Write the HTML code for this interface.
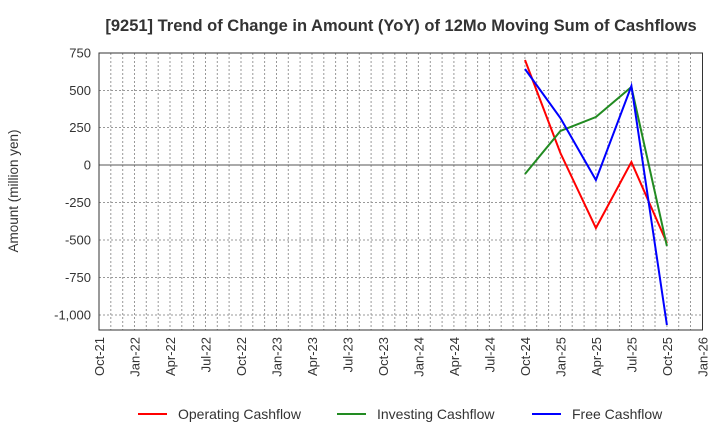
<!DOCTYPE html>
<html><head><meta charset="utf-8"><style>body{margin:0;background:#fff}svg{display:block}</style></head><body>
<svg width="720" height="440" xmlns="http://www.w3.org/2000/svg" font-family="Liberation Sans, sans-serif">
<text x="401" y="31" text-anchor="middle" font-size="16.5" font-weight="bold" fill="#333">[9251]  Trend of Change in Amount (YoY) of 12Mo Moving Sum of Cashflows</text>
<g stroke="#999" stroke-dasharray="2,2" stroke-width="1">
<path d="M110.8 53V330M122.7 53V330M134.5 53V330M146.3 53V330M158.2 53V330M170 53V330M181.8 53V330M193.6 53V330M205.5 53V330M217.3 53V330M229.1 53V330M241 53V330M252.8 53V330M264.6 53V330M276.5 53V330M288.3 53V330M300.1 53V330M312 53V330M323.8 53V330M335.6 53V330M347.4 53V330M359.3 53V330M371.1 53V330M382.9 53V330M394.8 53V330M406.6 53V330M418.4 53V330M430.3 53V330M442.1 53V330M453.9 53V330M465.8 53V330M477.6 53V330M489.4 53V330M501.2 53V330M513.1 53V330M524.9 53V330M536.7 53V330M548.6 53V330M560.4 53V330M572.2 53V330M584.1 53V330M595.9 53V330M607.7 53V330M619.6 53V330M631.4 53V330M643.2 53V330M655 53V330M666.9 53V330M678.7 53V330M690.5 53V330"/>
<path d="M99 90.5H702.5M99 127.5H702.5M99 202.5H702.5M99 240H702.5M99 277.5H702.5M99 315H702.5"/>
</g>
<line x1="99" y1="165" x2="702.5" y2="165" stroke="#555" stroke-width="1"/>
<rect x="99" y="53" width="603.5" height="277" fill="none" stroke="#333" stroke-width="1"/>
<g font-size="13" fill="#333" text-anchor="end">
<text x="91" y="57.5">750</text><text x="91" y="95">500</text><text x="91" y="132">250</text><text x="91" y="169.5">0</text><text x="91" y="207">-250</text><text x="91" y="244.5">-500</text><text x="91" y="282">-750</text><text x="91" y="319.5">-1,000</text>
</g>
<text transform="translate(18,191) rotate(-90)" text-anchor="middle" font-size="13.5" fill="#333">Amount (million yen)</text>
<g font-size="13" fill="#333" text-anchor="end">
<text transform="translate(104,337) rotate(-90)">Oct-21</text>
<text transform="translate(139.5,337) rotate(-90)">Jan-22</text>
<text transform="translate(175,337) rotate(-90)">Apr-22</text>
<text transform="translate(210.5,337) rotate(-90)">Jul-22</text>
<text transform="translate(246,337) rotate(-90)">Oct-22</text>
<text transform="translate(281.5,337) rotate(-90)">Jan-23</text>
<text transform="translate(317,337) rotate(-90)">Apr-23</text>
<text transform="translate(352.5,337) rotate(-90)">Jul-23</text>
<text transform="translate(388,337) rotate(-90)">Oct-23</text>
<text transform="translate(423.5,337) rotate(-90)">Jan-24</text>
<text transform="translate(459,337) rotate(-90)">Apr-24</text>
<text transform="translate(494.5,337) rotate(-90)">Jul-24</text>
<text transform="translate(530,337) rotate(-90)">Oct-24</text>
<text transform="translate(565.5,337) rotate(-90)">Jan-25</text>
<text transform="translate(601,337) rotate(-90)">Apr-25</text>
<text transform="translate(636.5,337) rotate(-90)">Jul-25</text>
<text transform="translate(672,337) rotate(-90)">Oct-25</text>
<text transform="translate(707.5,337) rotate(-90)">Jan-26</text>
</g>
<g fill="none" stroke-width="2">
<polyline stroke="#ff0000" points="525,60 560.4,153 595.9,228 631.4,162 666.9,243"/>
<polyline stroke="#228b22" points="525,174 560.4,131 595.9,117 631.4,87 666.9,246"/>
<polyline stroke="#0000ff" points="525,69 560.4,118 595.9,180 631.4,86 666.9,325"/>
</g>
<g font-size="14" fill="#333">
<line x1="138" y1="414" x2="167" y2="414" stroke="#ff0000" stroke-width="2"/><text x="178" y="419">Operating Cashflow</text>
<line x1="337" y1="414" x2="366" y2="414" stroke="#228b22" stroke-width="2"/><text x="377" y="419">Investing Cashflow</text>
<line x1="532" y1="414" x2="561" y2="414" stroke="#0000ff" stroke-width="2"/><text x="572" y="419">Free Cashflow</text>
</g>
</svg>
</body></html>
